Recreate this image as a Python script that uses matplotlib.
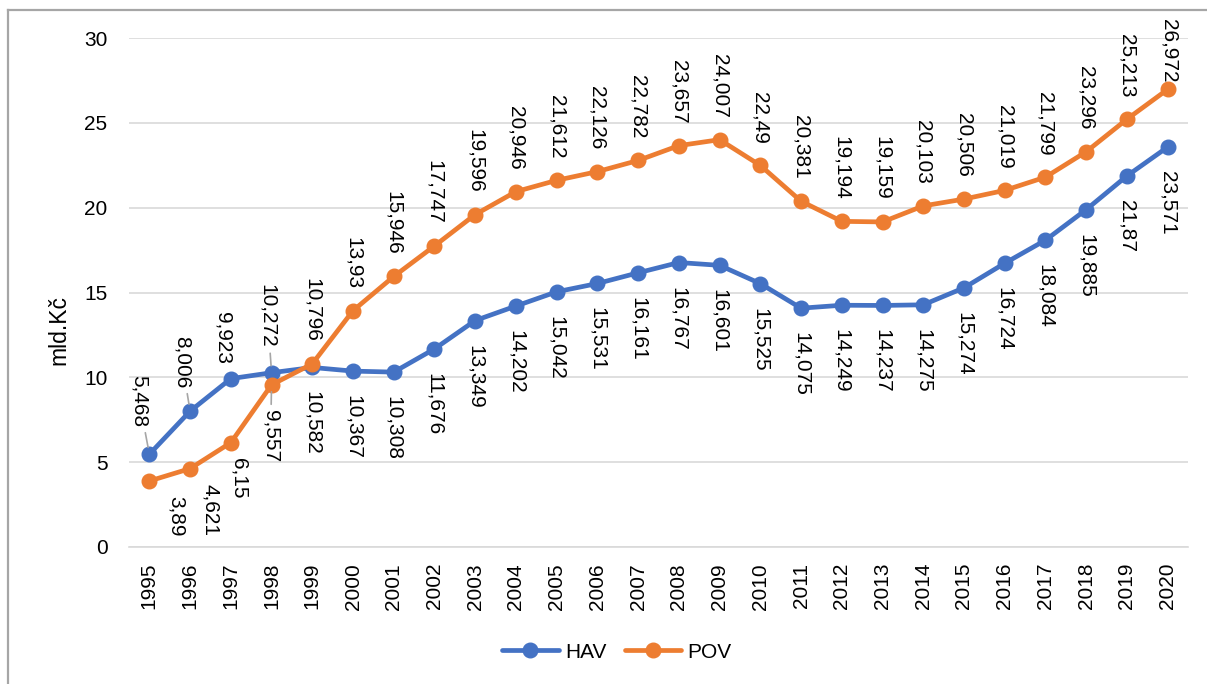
import matplotlib
matplotlib.use("Agg")
import matplotlib.pyplot as plt
from matplotlib.lines import Line2D

plt.rcParams['font.family'] = ['Liberation Sans', 'DejaVu Sans']

years = [str(y) for y in range(1995, 2021)]
hav = [5.468, 8.006, 9.923, 10.272, 10.582, 10.367, 10.308, 11.676, 13.349, 14.202,
       15.042, 15.531, 16.161, 16.767, 16.601, 15.525, 14.075, 14.249, 14.237, 14.275,
       15.274, 16.724, 18.084, 19.885, 21.87, 23.571]
pov = [3.89, 4.621, 6.15, 9.557, 10.796, 13.93, 15.946, 17.747, 19.596, 20.946,
       21.612, 22.126, 22.782, 23.657, 24.007, 22.49, 20.381, 19.194, 19.159, 20.103,
       20.506, 21.019, 21.799, 23.296, 25.213, 26.972]
yticks = [0, 5, 10, 15, 20, 25, 30]

BLUE = '#4472C4'
ORANGE = '#ED7D31'
GRID = '#D9D9D9'
W, H = 1207, 684

fig = plt.figure(figsize=(W / 100, H / 100), dpi=100)
ax = fig.add_axes([129 / W, (H - 547) / H, (1188 - 129) / W, (547 - 38) / H])

x = list(range(len(years)))
ax.plot(x, hav, color=BLUE, lw=3.4, marker='o', ms=10.5, solid_capstyle='round', zorder=3, label='HAV')
ax.plot(x, pov, color=ORANGE, lw=3.4, marker='o', ms=10.5, solid_capstyle='round', zorder=3, label='POV')

ax.set_xlim(-0.5, len(years) - 0.5)
ax.set_ylim(0, 30)
ax.set_yticks(yticks)
ax.set_xticks(x)
ax.set_xticklabels(years, rotation=90)
ax.tick_params(axis='both', length=0, labelsize=15, colors='#000000')
ax.tick_params(axis='y', pad=15.5)
ax.tick_params(axis='x', pad=11.5)
ax.grid(axis='y', color=GRID, lw=1.2, zorder=0)
for s in ['top', 'right', 'left']:
    ax.spines[s].set_visible(False)
ax.spines['bottom'].set_color(GRID)
ax.spines['bottom'].set_linewidth(1.2)
ax.set_axisbelow(True)


def fmt(v):
    return str(v).replace('.', ',')


# label placement overrides: index -> (dx px, dy px, va, leader)
hav_over = {0: (-10, 27, 'bottom', True), 1: (-8, 23, 'bottom', True),
            2: (-8, 15, 'bottom', False), 3: (-4, 25, 'bottom', True)}
pov_over = {0: (27, -15, 'top', False), 1: (20, -15, 'top', False),
            2: (8, -15, 'top', False), 3: (-1, -25, 'top', True),
            25: (1, 7, 'bottom', False)}

for series, default, over in [(hav, (0, -24, 'top', False), hav_over),
                              (pov, (0, 22, 'bottom', False), pov_over)]:
    for i, v in enumerate(series):
        dx, dy, va, leader = over.get(i, default)
        kw = {}
        if leader:
            kw['arrowprops'] = dict(arrowstyle='-', color='#A6A6A6', lw=1.2,
                                    shrinkA=2, shrinkB=5)
        ax.annotate(fmt(v), (i, v), xytext=(dx, dy), textcoords='offset pixels',
                    rotation=270, ha='center', va=va, fontsize=15, zorder=4, **kw)

fig.text(59 / W, 1 - 330 / H, 'mld.Kč', rotation=90, ha='center', va='center', fontsize=16.5)

handles = [Line2D([], [], color=BLUE, lw=3.4, marker='o', ms=10.5, solid_capstyle='round'),
           Line2D([], [], color=ORANGE, lw=3.4, marker='o', ms=10.5, solid_capstyle='round')]
fig.legend(handles, ['HAV', 'POV'], loc='center', bbox_to_anchor=(617 / W, 1 - 652 / H),
           ncol=2, frameon=False, fontsize=15, handlelength=2.7, handletextpad=0.3,
           columnspacing=0.9)

# outer border (left and top visible)
fig.add_artist(Line2D([8 / W, 8 / W], [0, 1 - 10 / H], transform=fig.transFigure,
                      color='#A6A6A6', lw=1.6))
fig.add_artist(Line2D([8 / W, 1], [1 - 10 / H, 1 - 10 / H], transform=fig.transFigure,
                      color='#A6A6A6', lw=1.6))

fig.savefig('out.png', dpi=100)
